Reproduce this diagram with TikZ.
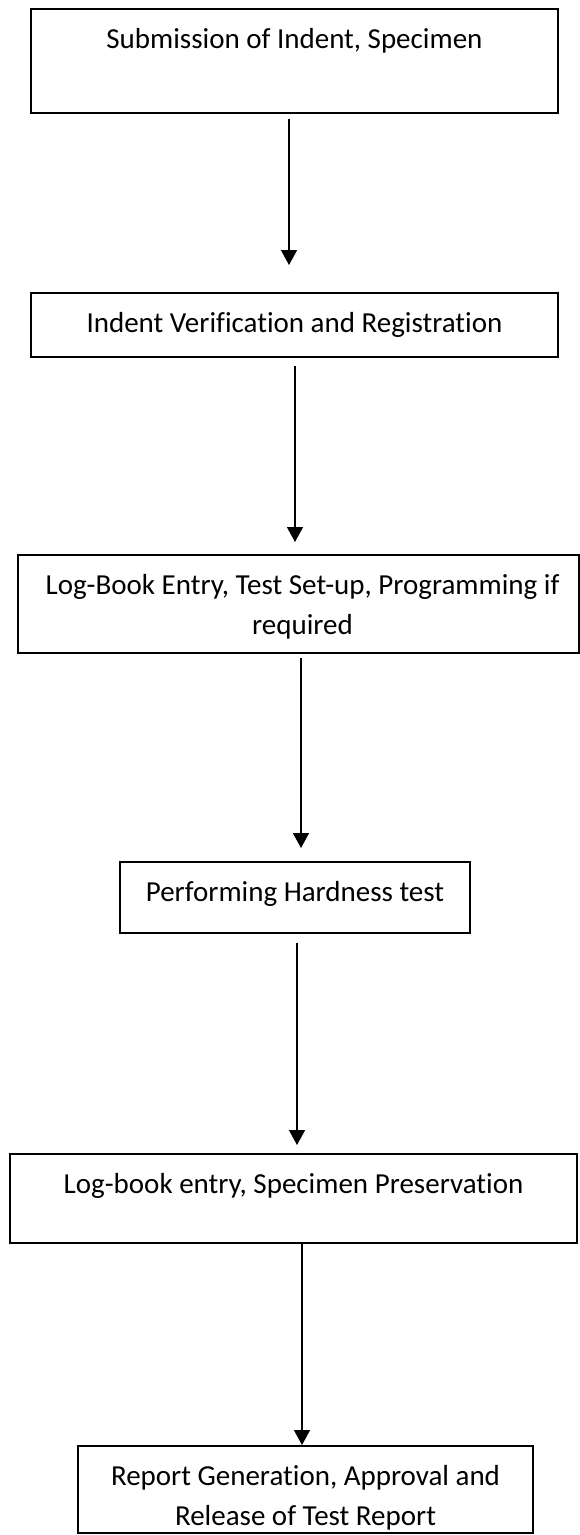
\documentclass[tikz,border=0pt]{standalone}
\usepackage{fontspec}
\setmainfont{Carlito}[Ligatures={NoCommon}]
\usetikzlibrary{arrows.meta,calc}

\tikzset{
  stagebox/.style={draw=black, line width=1.5pt, inner sep=0pt, outer sep=0pt,
    anchor=north west, fill=white},
  stagetext/.style={anchor=north, inner sep=0pt, outer sep=0pt, align=center,
    font=\fontsize{29}{39.5}\selectfont},
  flow/.style={draw=black, line width=1.5pt,
    -{Triangle[width=16pt,length=15pt]}}
}

\begin{document}
\begin{tikzpicture}[x=1pt,y=1pt]
  % page area
  \fill[white] (0,0) rectangle (580,-1535);
  \useasboundingbox (0,0) rectangle (580,-1535);

  % process boxes
  \node[stagebox, minimum width=527pt, minimum height=104pt] (b1) at (31,-9) {};
  \node[stagebox, minimum width=527pt, minimum height=64pt]  (b2) at (31,-293) {};
  \node[stagebox, minimum width=561pt, minimum height=98pt]  (b3) at (18,-555) {};
  \node[stagebox, minimum width=350pt, minimum height=71pt]  (b4) at (120,-862) {};
  \node[stagebox, minimum width=567pt, minimum height=89pt]  (b5) at (10,-1154) {};
  \node[stagebox, minimum width=455pt, minimum height=87pt]  (b6) at (78,-1446) {};

  % box captions, set from the top of each box
  \node[stagetext] (t1) at ($(b1.north)+(0,-11.85)$) {\strut Submission of Indent, Specimen};
  \node[stagetext] (t2) at ($(b2.north)+(0,-11.85)$) {\strut Indent Verification and Registration};
  \node[stagetext] (t3) at ($(b3.north)+(4,-11.85)$) {\strut Log-Book Entry, Test Set-up, Programming if\\ required};
  \node[stagetext] (t4) at ($(b4.north)+(0,-11.85)$) {\strut Performing Hardness test};
  \node[stagetext] (t5) at ($(b5.north)+(0,-11.85)$) {\strut Log-book entry, Specimen Preservation};
  \node[stagetext] (t6) at ($(b6.north)+(0,-11.85)$) {\strut Report Generation, Approval and\\ Release of Test Report};

  % flow arrows between the stages
  \draw[flow] ($(b1.south)+(-5.5,-6)$) -- ($(b1.south |- b2.north)+(-5.5,28)$);
  \draw[flow] ($(b2.south)+(0.5,-9)$)  -- ($(b2.south |- b3.north)+(0.5,13)$);
  \draw[flow] ($(b3.south)+(2.5,-5)$)  -- ($(b3.south |- b4.north)+(2.5,14)$);
  \draw[flow] ($(b4.south)+(2,-10)$)   -- ($(b4.south |- b5.north)+(2,9)$);
  \draw[flow] ($(b5.south)+(8.5,0)$)   -- ($(b5.south |- b6.north)+(8.5,1)$);
\end{tikzpicture}
\end{document}
